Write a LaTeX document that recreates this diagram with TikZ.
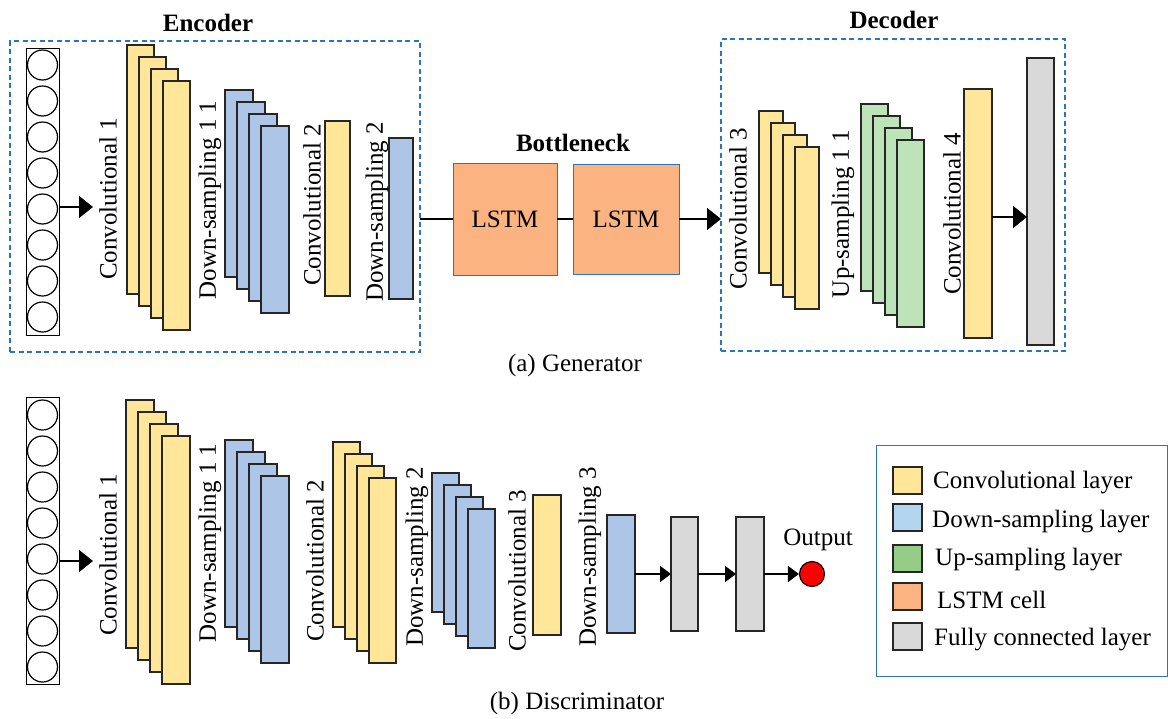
\documentclass[tikz,border=0pt]{standalone}
\usepackage{fontspec}
\setmainfont{Liberation Serif}
\usetikzlibrary{arrows.meta}
\definecolor{convY}{HTML}{FFE699}
\definecolor{dsB}{HTML}{ADC6E8}
\definecolor{upG}{HTML}{BDE3B8}
\definecolor{lstmO}{HTML}{FBB382}
\definecolor{fcG}{HTML}{D9D9D9}
\definecolor{frameB}{HTML}{2E75B6}
\definecolor{legB}{HTML}{B3D6EE}
\definecolor{legG}{HTML}{95CD87}
\tikzset{
  every node/.style={font=\fontsize{25}{30}\selectfont},
  layer/.style={draw=black!85, line width=1.3pt, inner sep=0pt, outer sep=0pt, anchor=north west, rectangle},
  convbox/.style={layer, fill=convY},
  dsbox/.style={layer, fill=dsB},
  upbox/.style={layer, fill=upG},
  fcbox/.style={layer, fill=fcG},
  lstmbox/.style={layer, draw=frameB, line width=1pt, fill=lstmO},
  framebox/.style={draw=frameB, line width=1.2pt, dash pattern=on 5pt off 3.5pt, inner sep=0pt, outer sep=0pt, anchor=north west, rectangle},
  legframe/.style={draw=frameB, line width=1pt, inner sep=0pt, outer sep=0pt, anchor=north west, rectangle},
  neuron/.style={circle, draw=black, line width=1.2pt, minimum size=30pt, inner sep=0pt},
  column/.style={draw=black, line width=1.2pt, inner sep=0pt, anchor=north west, rectangle},
  vlabel/.style={rotate=90, inner sep=0pt},
  title/.style={font=\fontsize{25}{30}\selectfont\bfseries},
  legtext/.style={anchor=west, inner sep=0pt},
  arr/.style={line width=1.6pt, -{Triangle[length=14pt,width=22pt]}},
  arrs/.style={line width=1.6pt, -{Triangle[length=11pt,width=16pt]}},
  plain/.style={line width=1.6pt}
}
\begin{document}
\begin{tikzpicture}[x=1pt,y=-1pt]
\useasboundingbox (0,0) rectangle (1168,718);
% ---------------- Generator: encoder ----------------
\node[framebox, minimum width=410pt, minimum height=311pt] (enc) at (10,41) {};
\node[title] (enctitle) at (208,23) {Encoder};
\node[column, minimum width=33pt, minimum height=287pt] (gin) at (26,48) {};
\foreach \i in {1,...,8} \node[neuron] (gc\i) at (42.5,{65+36*(\i-1)}) {};
\coordinate (gtip) at (93,207);
\draw[arr] (gin.east |- gtip) -- (gtip);
\node[convbox, minimum width=27pt, minimum height=249pt] (gca) at (127,45) {};
\node[convbox, minimum width=27pt, minimum height=249pt] (gcb) at (139,57) {};
\node[convbox, minimum width=27pt, minimum height=249pt] (gcc) at (151,69) {};
\node[convbox, minimum width=27pt, minimum height=249pt] (gcd) at (163,81) {};
\node[vlabel] (gl1) at (108,199) {Convolutional 1};
\node[dsbox, minimum width=28pt, minimum height=187pt] (gda) at (225,90) {};
\node[dsbox, minimum width=28pt, minimum height=187pt] (gdb) at (237,102) {};
\node[dsbox, minimum width=28pt, minimum height=187pt] (gdc) at (249,114) {};
\node[dsbox, minimum width=28pt, minimum height=187pt] (gdd) at (261,126) {};
\node[vlabel] (gl2) at (210,200) {Down-sampling 1 1};
\node[convbox, minimum width=25pt, minimum height=175pt] (gc2) at (325,121) {};
\node[vlabel] (gl3) at (312,205) {Convolutional 2};
\node[dsbox, minimum width=24pt, minimum height=161pt] (gd2) at (389,138) {};
\node[vlabel] (gl4) at (377,212) {Down-sampling 2};
% ---------------- Bottleneck ----------------
\node[title] (bntitle) at (573,143) {Bottleneck};
\node[lstmbox, minimum width=104pt, minimum height=112pt] (l1) at (453,163) {};
\node at (l1.center) {LSTM};
\node[lstmbox, minimum width=106pt, minimum height=110pt] (l2) at (573,164) {};
\node at (l2.center) {LSTM};
% ---------------- Decoder ----------------
\node[framebox, minimum width=344pt, minimum height=312pt] (dec) at (721,39) {};
\node[title] (dectitle) at (894,20) {Decoder};
\draw[plain] (l1.west -| enc.east) -- (l1.west);
\draw[plain] (l1.east) -- (l2.west);
\draw[arr] (l2.east) -- (l2.east -| dec.west);
\node[convbox, minimum width=24pt, minimum height=162pt] (dca) at (759,111) {};
\node[convbox, minimum width=24pt, minimum height=162pt] (dcb) at (771,123) {};
\node[convbox, minimum width=24pt, minimum height=162pt] (dcc) at (783,135) {};
\node[convbox, minimum width=24pt, minimum height=162pt] (dcd) at (795,147) {};
\node[vlabel] (dl1) at (738,209) {Convolutional 3};
\node[upbox, minimum width=27pt, minimum height=187pt] (dua) at (861,104) {};
\node[upbox, minimum width=27pt, minimum height=187pt] (dub) at (873,116) {};
\node[upbox, minimum width=27pt, minimum height=187pt] (duc) at (885,128) {};
\node[upbox, minimum width=27pt, minimum height=187pt] (dud) at (897,140) {};
\node[vlabel] (dl2) at (843,214) {Up-sampling 1 1};
\node[convbox, minimum width=28pt, minimum height=249pt] (dc4) at (964,89) {};
\node[vlabel] (dl3) at (952,214) {Convolutional 4};
\node[fcbox, minimum width=27pt, minimum height=287pt] (dfc) at (1027,58) {};
\coordinate (dfcin) at (1027,217);
\draw[arr] (dc4.east |- dfcin) -- (dfcin);
\node (gencap) at (575,365) {(a) Generator};
% ---------------- Discriminator ----------------
\node[column, minimum width=33pt, minimum height=287pt] (din) at (26,397) {};
\foreach \i in {1,...,8} \node[neuron] (dn\i) at (42.5,{415+36*(\i-1)}) {};
\coordinate (dtip) at (93,561);
\draw[arr] (din.east |- dtip) -- (dtip);
\node[convbox, minimum width=28pt, minimum height=248pt] (xca) at (126,400) {};
\node[convbox, minimum width=28pt, minimum height=248pt] (xcb) at (138,412) {};
\node[convbox, minimum width=28pt, minimum height=248pt] (xcc) at (150,424) {};
\node[convbox, minimum width=28pt, minimum height=248pt] (xcd) at (162,436) {};
\node[vlabel] (xl1) at (108,555) {Convolutional 1};
\node[dsbox, minimum width=28pt, minimum height=187pt] (xda) at (225,440) {};
\node[dsbox, minimum width=28pt, minimum height=187pt] (xdb) at (237,452) {};
\node[dsbox, minimum width=28pt, minimum height=187pt] (xdc) at (249,464) {};
\node[dsbox, minimum width=28pt, minimum height=187pt] (xdd) at (261,476) {};
\node[vlabel] (xl2) at (210,543) {Down-sampling 1 1};
\node[convbox, minimum width=27pt, minimum height=185pt] (xea) at (333,442) {};
\node[convbox, minimum width=27pt, minimum height=185pt] (xeb) at (345,454) {};
\node[convbox, minimum width=27pt, minimum height=185pt] (xec) at (357,466) {};
\node[convbox, minimum width=27pt, minimum height=185pt] (xed) at (369,478) {};
\node[vlabel] (xl3) at (315,561) {Convolutional 2};
\node[dsbox, minimum width=27pt, minimum height=139pt] (xfa) at (432,473) {};
\node[dsbox, minimum width=27pt, minimum height=139pt] (xfb) at (444,485) {};
\node[dsbox, minimum width=27pt, minimum height=139pt] (xfc) at (456,497) {};
\node[dsbox, minimum width=27pt, minimum height=139pt] (xfd) at (468,509) {};
\node[vlabel] (xl4) at (417,557) {Down-sampling 2};
\node[convbox, minimum width=28pt, minimum height=140pt] (xc3) at (533,495) {};
\node[vlabel] (xl5) at (517,571) {Convolutional 3};
\node[dsbox, minimum width=28pt, minimum height=118pt] (xd3) at (607,515) {};
\node[vlabel] (xl6) at (590,557) {Down-sampling 3};
\node[fcbox, minimum width=27pt, minimum height=114pt] (xf1) at (671,517) {};
\node[fcbox, minimum width=28pt, minimum height=114pt] (xf2) at (736,517) {};
\node[circle, draw=black, line width=1.2pt, fill=red, minimum size=25pt, inner sep=0pt] (xout) at (812,574) {};
\node (outlab) at (818,540) {Output};
\draw[arrs] (xd3.east) -- (xd3.east -| xf1.west);
\draw[arrs] (xf1.east) -- (xf1.east -| xf2.west);
\draw[arrs] (xf2.east) -- (xout.west);
\node (discap) at (577,703) {(b) Discriminator};
% ---------------- Legend ----------------
\node[legframe, minimum width=291pt, minimum height=231pt] (leg) at (876,445) {};
\node[convbox, minimum width=29pt, minimum height=27pt] (s1) at (893,467) {};
\node[layer, fill=legB, minimum width=29pt, minimum height=27pt] (s2) at (893,504) {};
\node[layer, fill=legG, minimum width=29pt, minimum height=27pt] (s3) at (893,545) {};
\node[layer, fill=lstmO, minimum width=29pt, minimum height=27pt] (s4) at (893,583) {};
\node[fcbox, minimum width=29pt, minimum height=27pt] (s5) at (893,623) {};
\node[legtext] (t1) at (933,483) {Convolutional layer};
\node[legtext] (t2) at (932,522) {Down-sampling layer};
\node[legtext] (t3) at (935,560) {Up-sampling layer};
\node[legtext] (t4) at (937,600) {LSTM cell};
\node[legtext] (t5) at (934,640) {Fully connected layer};
\end{tikzpicture}
\end{document}
